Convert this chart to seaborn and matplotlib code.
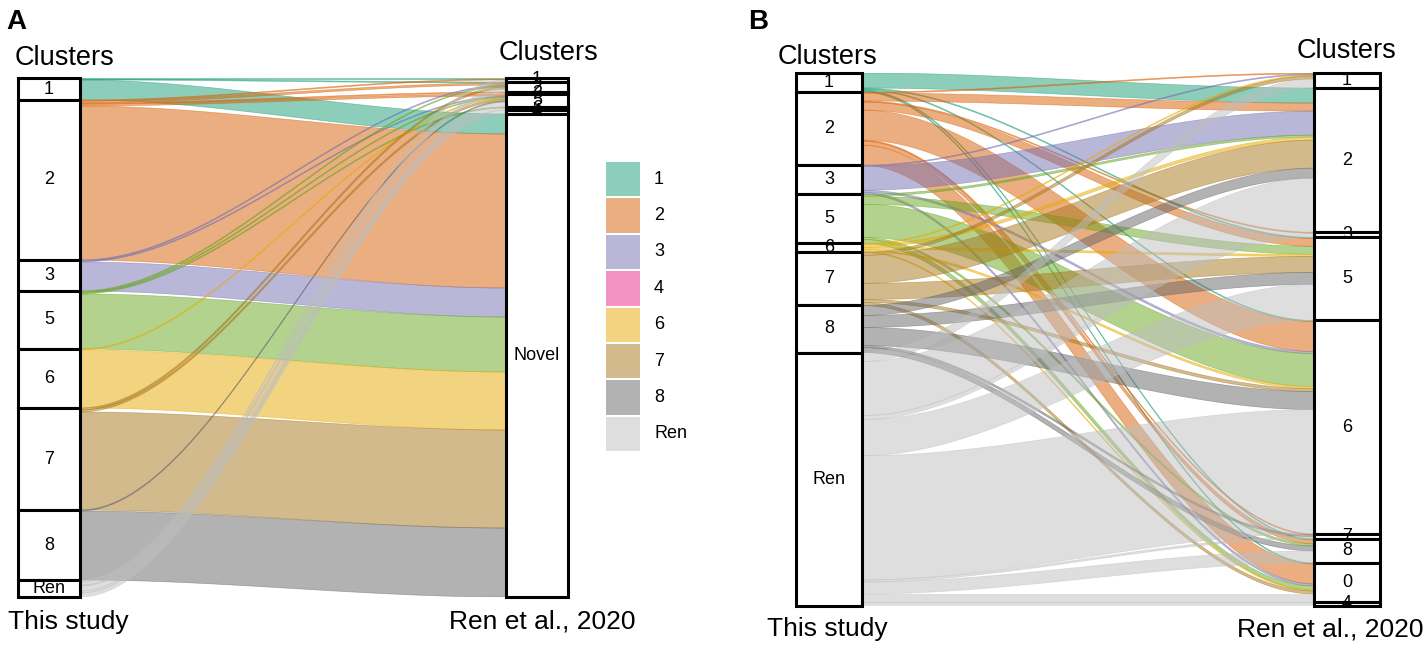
import numpy as np
import pandas as pd
import matplotlib
matplotlib.use("Agg")
import matplotlib.pyplot as plt
from matplotlib.patches import Rectangle
from matplotlib.colors import to_rgb
import seaborn as sns

sns.set_theme(style="white")
plt.rcParams['font.family'] = ['Liberation Sans', 'DejaVu Sans']

# ---------------- colours ----------------
cluster_keys = ["1", "2", "3", "4", "5", "6", "7", "8"]
palette = {k: to_rgb(c) for k, c in zip(cluster_keys, sns.color_palette("Dark2", 8))}
palette["Ren"] = to_rgb("#BEBEBE")
legend_keys = ["1", "2", "3", "4", "6", "7", "8", "Ren"]
ALPHA = 0.5

# ---------------- panel A data ----------------
a_left_order = ["1", "2", "3", "5", "6", "7", "8", "Ren"]
a_right_order = ["1", "2", "3", "5", "6", "4", "Novel"]
a_src = ["1", "1", "1",
         "2", "2", "2", "2", "2",
         "3", "3", "3",
         "5", "5", "5", "5",
         "6", "6",
         "7", "7", "7",
         "8", "8",
         "Ren", "Ren", "Ren", "Ren", "Ren", "Ren"]
a_dst = ["Novel", "1", "2",
         "Novel", "1", "2", "3", "5",
         "Novel", "2", "5",
         "Novel", "2", "5", "6",
         "Novel", "5",
         "Novel", "2", "5",
         "Novel", "5",
         "1", "2", "3", "5", "6", "4"]
a_n = [20, 1, 1,
       154, 1, 2, 1, 2,
       29, 1, 1,
       55, 1, 1, 1,
       58, 1,
       98, 2, 2,
       69, 1,
       2, 3, 1, 5, 2, 4]

# ---------------- panel B data ----------------
b_left_order = ["1", "2", "3", "5", "6", "7", "8", "Ren"]
b_right_order = ["1", "2", "3", "5", "6", "7", "8", "0", "4"]
b_src = ["1"] * 5 + ["2"] * 8 + ["3"] * 4 + ["5"] * 5 + ["6"] * 5 + ["7"] * 5 + ["8"] * 5 + ["Ren"] * 9
b_dst = ["2", "5", "6", "8", "0",
         "1", "2", "3", "5", "6", "7", "8", "0",
         "1", "2", "6", "0",
         "2", "5", "6", "8", "0",
         "1", "2", "5", "6", "0",
         "1", "2", "5", "6", "0",
         "2", "5", "6", "7", "8",
         "1", "2", "3", "5", "6", "7", "8", "0", "4"]
b_n = [15, 1, 1, 1, 1,
       1, 8, 1, 8, 30, 1, 4, 20,
       1, 24, 2, 2,
       2, 8, 33, 2, 4,
       1, 3, 2, 2, 1,
       3, 28, 16, 3, 3,
       10, 12, 18, 2, 5,
       9, 54, 4, 36, 124, 2, 12, 8, 4]

W, H = 1428, 645
fig = plt.figure(figsize=(W / 100, H / 100), dpi=100)


def px(x, y):
    return x / W, 1 - y / H


def draw_alluvial(rect_px, left_order, right_order, src, dst, n, box_w):
    x0p, y0p, x1p, y1p = rect_px
    ax = fig.add_axes([x0p / W, 1 - y1p / H, (x1p - x0p) / W, (y1p - y0p) / H])
    df = pd.DataFrame({"src": src, "dst": dst, "n": n})
    total = df["n"].sum()
    ax.set_xlim(1 - box_w / 2, 2 + box_w / 2)
    ax.set_ylim(total, 0)
    ax.axis("off")

    lt = df.groupby("src")["n"].sum().reindex(left_order).fillna(0)
    rt = df.groupby("dst")["n"].sum().reindex(right_order).fillna(0)
    ltop = dict(zip(left_order, np.concatenate([[0], np.cumsum(lt.values)[:-1]])))
    rtop = dict(zip(right_order, np.concatenate([[0], np.cumsum(rt.values)[:-1]])))

    df["li"] = df["src"].map({k: i for i, k in enumerate(left_order)})
    df["ri"] = df["dst"].map({k: i for i, k in enumerate(right_order)})
    df = df.sort_values(["li", "ri"])
    df["ly"] = df.groupby("src")["n"].cumsum() - df["n"] + df["src"].map(ltop)
    df = df.sort_values(["ri", "li"])
    df["ry"] = df.groupby("dst")["n"].cumsum() - df["n"] + df["dst"].map(rtop)
    df = df.sort_values(["li", "ri"])

    xa, xb = 1 + box_w / 2, 2 - box_w / 2
    t = np.linspace(0, 1, 120)
    s = 3 * t ** 2 - 2 * t ** 3
    xs = xa + (xb - xa) * t
    for _, r in df.iterrows():
        top = r.ly + (r.ry - r.ly) * s
        bot = top + r.n
        c = palette[r.src]
        ax.fill(np.r_[xs, xs[::-1]], np.r_[top, bot[::-1]],
                facecolor=(*c, ALPHA), edgecolor=(*c, ALPHA), lw=0.5)

    for xc, order, tots, tops in [(1, left_order, lt, ltop), (2, right_order, rt, rtop)]:
        for k in order:
            h = tots[k]
            ax.add_patch(Rectangle((xc - box_w / 2, tops[k]), box_w, h, facecolor="white",
                                   edgecolor="black", lw=2.2, clip_on=False, zorder=3))
        for k in order:
            ax.text(xc, tops[k] + tots[k] / 2, k, ha="center", va="center",
                    fontsize=13, color="black", zorder=4)
    return ax


draw_alluvial((18, 78, 568, 597), a_left_order, a_right_order, a_src, a_dst, a_n, 62 / 488)
draw_alluvial((796, 73, 1380, 606), b_left_order, b_right_order, b_src, b_dst, b_n, 66 / 518)

# ---------------- texts ----------------
texts = [("A", 16, 22, 20, "bold"), ("B", 758, 22, 20, "bold"),
         ("Clusters", 64, 58, 19.5, "normal"), ("Clusters", 549, 53, 19.5, "normal"),
         ("This study", 68, 622, 19, "normal"), ("Ren et al., 2020", 542, 622, 19, "normal"),
         ("Clusters", 827, 57, 19.5, "normal"), ("Clusters", 1347, 51, 19.5, "normal"),
         ("This study", 827, 629, 19, "normal"), ("Ren et al., 2020", 1330, 630, 19, "normal")]
for s_, x, y, fs, fw in texts:
    fig.text(*px(x, y), s_, ha="center", va="center", fontsize=fs, fontweight=fw, color="black")

# ---------------- legend ----------------
lax = fig.add_axes([606 / W, 1 - 452 / H, 100 / W, 291 / H])
lax.set_xlim(0, 100)
lax.set_ylim(291, 0)
lax.axis("off")
pitch = 291 / len(legend_keys)
for i, k in enumerate(legend_keys):
    lax.add_patch(Rectangle((0, i * pitch + 1), 34, pitch - 2, facecolor=(*palette[k], ALPHA),
                            edgecolor="none"))
    lax.text(48, i * pitch + pitch / 2, k, ha="left", va="center", fontsize=13, color="black")

fig.savefig("out.png", dpi=100)
